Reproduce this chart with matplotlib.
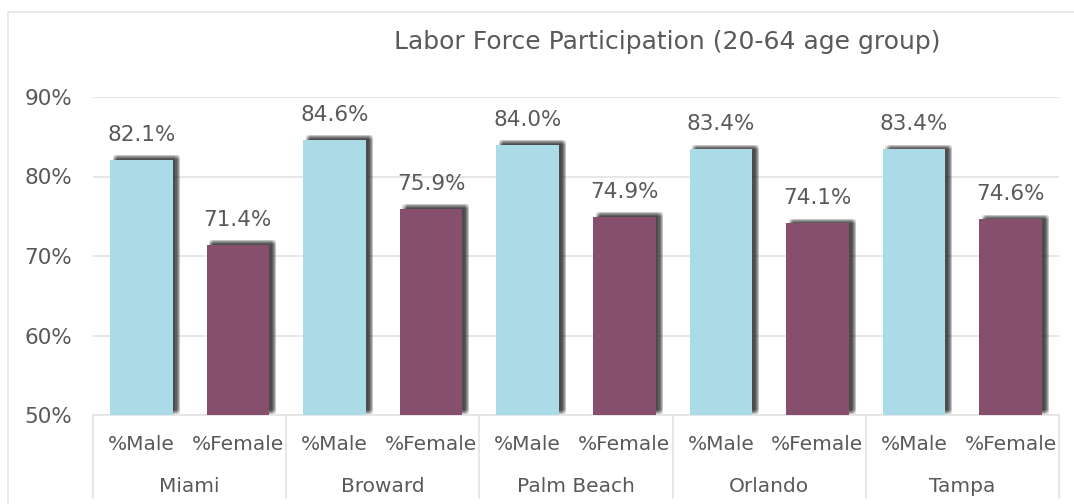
import matplotlib.pyplot as plt
import matplotlib.patheffects as pe
from matplotlib.patches import Rectangle
import numpy as np

# data
cities = ['Miami', 'Broward', 'Palm Beach', 'Orlando', 'Tampa']
sub_labels = ['%Male', '%Female']
male = [82.1, 84.6, 84.0, 83.4, 83.4]
female = [71.4, 75.9, 74.9, 74.1, 74.6]

male_color = '#AADBE6'
female_color = '#864F6E'
text_color = '#595959'
grid_color = '#E3E3E3'

plt.rcParams['font.family'] = ['DejaVu Sans']

fig = plt.figure(figsize=(10.74, 5.04), dpi=100)
W, H = 1074, 504
ax = fig.add_axes([93 / W, (H - 415) / H, (1059 - 93) / W, (415 - 97) / H])

# outer chart border
fig.patches.append(Rectangle((8 / W, -0.05), 1.1, (H - 12) / H + 0.05, transform=fig.transFigure,
                             fill=False, edgecolor='#E6E6E6', linewidth=1.2))

values = []
colors = []
for m, f in zip(male, female):
    values += [m, f]
    colors += [male_color, female_color]
x = np.arange(len(values))

# blurred drop shadow: many faint copies around an offset
shadow = []
steps = (-1.5, -0.75, 0, 0.75, 1.5)
for ox in steps:
    for oy in steps:
        shadow.append(pe.SimplePatchShadow(offset=(3.5 + ox, 2 + oy), shadow_rgbFace='#222222', alpha=0.06))
shadow.append(pe.Normal())

bottom = 50
bars = ax.bar(x, np.array(values) - bottom, bottom=bottom, width=0.65, color=colors, zorder=3)
for b in bars:
    b.set_path_effects(shadow)

for xi, v in zip(x, values):
    ax.text(xi, v + 2.4, f'{v:.1f}%', ha='center', va='baseline', fontsize=15.5, color=text_color, zorder=4)

ax.set_xlim(-0.5, len(values) - 0.5)
ax.set_ylim(50, 90)
ax.set_yticks([50, 60, 70, 80, 90])
ax.set_yticklabels([f'{t}%' for t in [50, 60, 70, 80, 90]])
ax.tick_params(axis='y', length=0, labelsize=15.5, labelcolor=text_color, pad=15)
ax.set_xticks([])
ax.grid(axis='y', color=grid_color, linewidth=1.2, zorder=0)
for s in ['top', 'right', 'left']:
    ax.spines[s].set_visible(False)
ax.spines['bottom'].set_color(grid_color)
ax.spines['bottom'].set_linewidth(1.2)

trans = ax.get_xaxis_transform()
for i, xi in enumerate(x):
    ax.text(xi, -0.093, sub_labels[i % 2], transform=trans, ha='center', va='center',
            fontsize=14.5, color=text_color)
for j, c in enumerate(cities):
    ax.text(2 * j + 0.5, -0.225, c, transform=trans, ha='center', va='center',
            fontsize=14.5, color=text_color)
for sx in np.arange(-0.5, len(values), 2):
    ax.plot([sx, sx], [0, -0.261], transform=trans, color=grid_color, linewidth=1.2, clip_on=False)

fig.text(667 / W, (H - 42) / H, 'Labor Force Participation (20-64 age group)', ha='center', va='center',
         fontsize=18, color=text_color)

fig.savefig('out.png', dpi=100)
